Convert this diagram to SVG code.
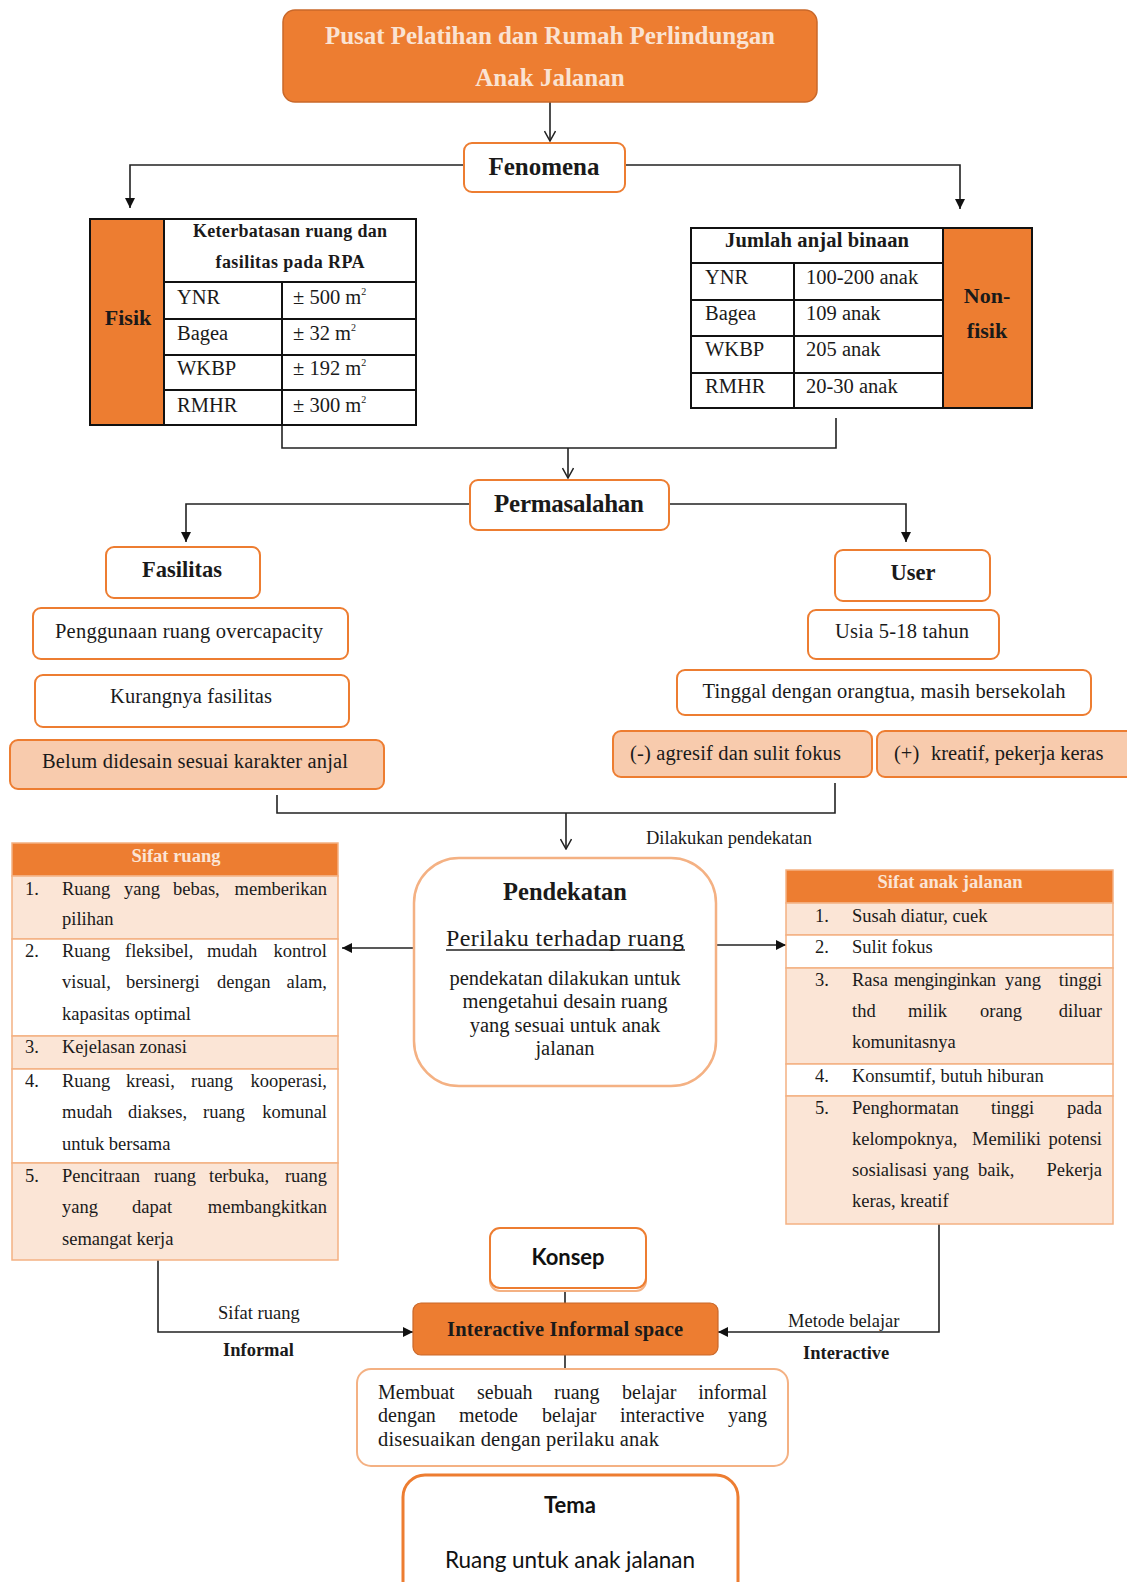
<svg xmlns="http://www.w3.org/2000/svg" width="1127" height="1582" viewBox="0 0 1127 1582">
<defs>
<style>
.s{font-family:"Liberation Serif","Times New Roman",serif;fill:#1a1a1a}
.sans{font-family:Lato,"Liberation Sans",sans-serif;fill:#111}
.b{font-weight:bold}
.c{text-anchor:middle}
.e{text-anchor:end}
.conn{fill:none;stroke:#222;stroke-width:1.6}
.box{fill:#fff;stroke:#ED7D31;stroke-width:2}
.pbox{fill:#F8CBAD;stroke:#ED7D31;stroke-width:2}
.tb{fill:none;stroke:#111;stroke-width:2}
.rp{fill:#FBE5D6;stroke:#F4B183;stroke-width:1.5}
.rw{fill:#fff;stroke:#F4B183;stroke-width:1.5}
.hd{fill:#ED7D31;stroke:#F4B183;stroke-width:1.5}
.t18{font-size:18.5px}
.t20{font-size:20.5px}
</style>
<marker id="fa" viewBox="0 0 10 10" refX="10" refY="5" markerWidth="10" markerHeight="10" markerUnits="userSpaceOnUse" orient="auto">
<path d="M0,0 L10,5 L0,10 z" fill="#111"/>
</marker>
<marker id="oa" viewBox="0 0 12 12" refX="11" refY="6" markerWidth="12" markerHeight="12" markerUnits="userSpaceOnUse" orient="auto">
<path d="M1,0.5 L11,6 L1,11.5" fill="none" stroke="#222" stroke-width="1.5"/>
</marker>
</defs>
<rect width="1127" height="1582" fill="#fff"/>

<g id="connectors">
<path class="conn" d="M550,102 V141" marker-end="url(#oa)"/>
<path class="conn" d="M464,165 H130 V208" marker-end="url(#fa)"/>
<path class="conn" d="M625,165 H960 V209" marker-end="url(#fa)"/>
<path class="conn" d="M282,425 V448 H836 V418"/>
<path class="conn" d="M568,448 V478" marker-end="url(#oa)"/>
<path class="conn" d="M470,504 H186 V542" marker-end="url(#fa)"/>
<path class="conn" d="M669,504 H906 V542" marker-end="url(#fa)"/>
<path class="conn" d="M277,795 V813 H835 V783"/>
<path class="conn" d="M566,813 V849" marker-end="url(#oa)"/>
<path class="conn" d="M414,948 H342" marker-end="url(#fa)"/>
<path class="conn" d="M716,945 H786" marker-end="url(#fa)"/>
<path class="conn" d="M158,1260 V1332 H413" marker-end="url(#fa)"/>
<path class="conn" d="M939,1224 V1332 H718" marker-end="url(#fa)"/>
<path class="conn" d="M565,1291 V1303"/>
<path class="conn" d="M565,1355 V1369"/>
<text class="s t18" x="646" y="844">Dilakukan pendekatan</text>
<text class="s t18" x="218" y="1319">Sifat ruang</text>
<text class="s b t18" x="223" y="1356">Informal</text>
<text class="s t18" x="788" y="1327">Metode belajar</text>
<text class="s b t18" x="803" y="1359">Interactive</text>
</g>

<g id="judul">
<rect x="283" y="10" width="534" height="92" rx="12" fill="#ED7D31" stroke="#C9682A" stroke-width="1.5"/>
<text class="s b c" x="550" y="44" font-size="25" style="fill:#FAE3D3" textLength="450">Pusat Pelatihan dan Rumah Perlindungan</text>
<text class="s b c" x="550" y="86" font-size="25" style="fill:#FAE3D3">Anak Jalanan</text>
</g>

<g id="fenomena">
<rect class="box" x="464" y="143" width="161" height="49" rx="8"/>
<text class="s b c" x="544" y="175" font-size="25" textLength="111">Fenomena</text>
</g>

<g id="fisik">
<rect x="90" y="219" width="74" height="206" fill="#ED7D31"/>
<rect class="tb" x="90" y="219" width="326" height="206"/>
<path d="M164,219 V425 M164,282 H416 M164,319 H416 M164,355 H416 M164,390 H416 M282,282 V425" stroke="#111" stroke-width="2" fill="none"/>
<text class="s b c" x="128" y="325" font-size="22">Fisik</text>
<text class="s b c" x="290" y="237" font-size="18" textLength="194">Keterbatasan ruang dan</text>
<text class="s b c" x="290" y="268" font-size="18" textLength="149">fasilitas pada RPA</text>
<g class="s" font-size="20.5">
<text x="177" y="304">YNR</text><text x="293" y="304">± 500 m<tspan font-size="10" dy="-9">2</tspan></text>
<text x="177" y="340">Bagea</text><text x="293" y="340">± 32 m<tspan font-size="10" dy="-9">2</tspan></text>
<text x="177" y="375">WKBP</text><text x="293" y="375">± 192 m<tspan font-size="10" dy="-9">2</tspan></text>
<text x="177" y="412">RMHR</text><text x="293" y="412">± 300 m<tspan font-size="10" dy="-9">2</tspan></text>
</g>
</g>

<g id="nonfisik">
<rect x="943" y="228" width="89" height="180" fill="#ED7D31"/>
<rect class="tb" x="691" y="228" width="341" height="180"/>
<path d="M943,228 V408 M691,263 H943 M691,300 H943 M691,336 H943 M691,373 H943 M794,263 V408" stroke="#111" stroke-width="2" fill="none"/>
<text class="s b c" x="817" y="247" font-size="20.5" textLength="184">Jumlah anjal binaan</text>
<text class="s b c" x="987" y="303" font-size="22">Non-</text>
<text class="s b c" x="987" y="338" font-size="22">fisik</text>
<g class="s" font-size="20.5">
<text x="705" y="284">YNR</text><text x="806" y="284">100-200 anak</text>
<text x="705" y="320">Bagea</text><text x="806" y="320">109 anak</text>
<text x="705" y="356">WKBP</text><text x="806" y="356">205 anak</text>
<text x="705" y="393">RMHR</text><text x="806" y="393">20-30 anak</text>
</g>
</g>

<g id="permasalahan">
<rect class="box" x="470" y="480" width="199" height="50" rx="8"/>
<text class="s b c" x="569" y="512" font-size="25" textLength="150">Permasalahan</text>
</g>

<g id="fasilitas">
<rect class="box" x="106" y="547" width="154" height="51" rx="8"/>
<text class="s b c" x="182" y="577" font-size="22.5">Fasilitas</text>
</g>
<g id="overcapacity">
<rect class="box" x="33" y="608" width="315" height="51" rx="8"/>
<text class="s c t20" x="189" y="638" textLength="268">Penggunaan ruang overcapacity</text>
</g>
<g id="kurang">
<rect class="box" x="35" y="675" width="314" height="52" rx="8"/>
<text class="s c t20" x="191" y="703" textLength="162">Kurangnya fasilitas</text>
</g>
<g id="belum">
<rect class="pbox" x="10" y="740" width="374" height="49" rx="8"/>
<text class="s c t20" x="195" y="768" textLength="306">Belum didesain sesuai karakter anjal</text>
</g>

<g id="user">
<rect class="box" x="835" y="550" width="155" height="51" rx="8"/>
<text class="s b c" x="913" y="580" font-size="22.5">User</text>
</g>
<g id="usia">
<rect class="box" x="808" y="610" width="191" height="49" rx="8"/>
<text class="s c t20" x="902" y="638" textLength="134">Usia 5-18 tahun</text>
</g>
<g id="tinggal">
<rect class="box" x="677" y="670" width="414" height="45" rx="8"/>
<text class="s c t20" x="884" y="698" textLength="363">Tinggal dengan orangtua, masih bersekolah</text>
</g>
<g id="negatif">
<rect class="pbox" x="613" y="731" width="259" height="46" rx="8"/>
<text class="s t20" x="630" y="760" textLength="211">(-) agresif dan sulit fokus</text>
</g>
<g id="positif">
<rect class="pbox" x="877" y="731" width="270" height="46" rx="8"/>
<text class="s t20" x="894" y="760">(+)<tspan x="931">kreatif, pekerja keras</tspan></text>
</g>

<g id="sifat-ruang">
<rect class="hd" x="12" y="843" width="326" height="33"/>
<rect class="rp" x="12" y="876" width="326" height="63"/>
<rect class="rw" x="12" y="939" width="326" height="97"/>
<rect class="rp" x="12" y="1036" width="326" height="33"/>
<rect class="rw" x="12" y="1069" width="326" height="94"/>
<rect class="rp" x="12" y="1163" width="326" height="97"/>
<text class="s b c t18" x="176" y="862" style="fill:#FBE5D6">Sifat ruang</text>
<g class="s t18">
<text x="25" y="895">1.</text>
<text y="895"><tspan x="62">Ruang</tspan><tspan x="124">yang</tspan><tspan x="173">bebas,</tspan></text><text class="e" x="327" y="895">memberikan</text>
<text x="62" y="925">pilihan</text>
<text x="25" y="957">2.</text>
<text y="957"><tspan x="62">Ruang</tspan><tspan x="125">fleksibel,</tspan><tspan x="207">mudah</tspan></text><text class="e" x="327" y="957">kontrol</text>
<text y="988"><tspan x="62">visual,</tspan><tspan x="126">bersinergi</tspan><tspan x="217">dengan</tspan></text><text class="e" x="327" y="988">alam,</text>
<text x="62" y="1020">kapasitas optimal</text>
<text x="25" y="1053">3.</text>
<text x="62" y="1053">Kejelasan zonasi</text>
<text x="25" y="1087">4.</text>
<text y="1087"><tspan x="62">Ruang</tspan><tspan x="126">kreasi,</tspan><tspan x="191">ruang</tspan></text><text class="e" x="327" y="1087">kooperasi,</text>
<text y="1118"><tspan x="62">mudah</tspan><tspan x="128">diakses,</tspan><tspan x="203">ruang</tspan></text><text class="e" x="327" y="1118">komunal</text>
<text x="62" y="1150">untuk bersama</text>
<text x="25" y="1182">5.</text>
<text y="1182"><tspan x="62">Pencitraan</tspan><tspan x="154">ruang</tspan><tspan x="209">terbuka,</tspan></text><text class="e" x="327" y="1182">ruang</text>
<text y="1213"><tspan x="62">yang</tspan><tspan x="132">dapat</tspan></text><text class="e" x="327" y="1213">membangkitkan</text>
<text x="62" y="1245">semangat kerja</text>
</g>
</g>

<g id="pendekatan">
<rect x="414" y="858" width="302" height="228" rx="45" fill="#fff" stroke="#F4B183" stroke-width="2.5"/>
<text class="s b c" x="565" y="900" font-size="24.5">Pendekatan</text>
<text class="s c" x="565" y="946" font-size="24" textLength="238">Perilaku terhadap ruang</text>
<line x1="446" y1="950" x2="685" y2="950" stroke="#222" stroke-width="1.3"/>
<g class="s c" font-size="20.5">
<text x="565" y="985">pendekatan dilakukan untuk</text>
<text x="565" y="1008">mengetahui desain ruang</text>
<text x="565" y="1032">yang sesuai untuk anak</text>
<text x="565" y="1055">jalanan</text>
</g>
</g>

<g id="sifat-anak">
<rect class="hd" x="786" y="870" width="327" height="33"/>
<rect class="rp" x="786" y="903" width="327" height="32"/>
<rect class="rw" x="786" y="935" width="327" height="33"/>
<rect class="rp" x="786" y="968" width="327" height="96"/>
<rect class="rw" x="786" y="1064" width="327" height="32"/>
<rect class="rp" x="786" y="1096" width="327" height="128"/>
<text class="s b c t18" x="950" y="888" style="fill:#FBE5D6">Sifat anak jalanan</text>
<g class="s t18">
<text x="815" y="922">1.</text><text x="852" y="922">Susah diatur, cuek</text>
<text x="815" y="953">2.</text><text x="852" y="953">Sulit fokus</text>
<text x="815" y="986">3.</text>
<text y="986"><tspan x="852">Rasa</tspan><tspan x="894" textLength="102">menginginkan</tspan><tspan x="1005">yang</tspan></text><text class="e" x="1102" y="986">tinggi</text>
<text y="1017"><tspan x="852">thd</tspan><tspan x="908">milik</tspan><tspan x="980">orang</tspan></text><text class="e" x="1102" y="1017">diluar</text>
<text x="852" y="1048">komunitasnya</text>
<text x="815" y="1082">4.</text><text x="852" y="1082">Konsumtif, butuh hiburan</text>
<text x="815" y="1114">5.</text>
<text y="1114"><tspan x="852">Penghormatan</tspan><tspan x="991">tinggi</tspan></text><text class="e" x="1102" y="1114">pada</text>
<text y="1145"><tspan x="852">kelompoknya,</tspan><tspan x="972">Memiliki</tspan></text><text class="e" x="1102" y="1145">potensi</text>
<text y="1176"><tspan x="852">sosialisasi</tspan><tspan x="933">yang</tspan><tspan x="978">baik,</tspan></text><text class="e" x="1102" y="1176">Pekerja</text>
<text x="852" y="1207">keras, kreatif</text>
</g>
</g>

<g id="konsep">
<rect x="490" y="1231" width="156" height="60" rx="10" fill="#fff" stroke="#F4B183" stroke-width="2"/>
<rect x="490" y="1228" width="156" height="60" rx="10" fill="#fff" stroke="#ED7D31" stroke-width="2"/>
<text class="sans b c" x="568" y="1265" font-size="22">Konsep</text>
</g>

<g id="interactive-informal">
<rect x="413" y="1303" width="305" height="52" rx="8" fill="#ED7D31" stroke="#C9682A" stroke-width="1.2"/>
<text class="s b c" x="565" y="1336" font-size="20.5" textLength="236">Interactive Informal space</text>
</g>

<g id="membuat">
<rect x="357" y="1369" width="431" height="97" rx="14" fill="#fff" stroke="#F4B183" stroke-width="2"/>
<g class="s" font-size="20">
<text y="1399"><tspan x="378">Membuat</tspan><tspan x="477">sebuah</tspan><tspan x="554">ruang</tspan><tspan x="622">belajar</tspan></text><text class="e" x="767" y="1399">informal</text>
<text y="1422"><tspan x="378">dengan</tspan><tspan x="459">metode</tspan><tspan x="542">belajar</tspan><tspan x="620">interactive</tspan></text><text class="e" x="767" y="1422">yang</text>
<text x="378" y="1446" font-size="20.5" textLength="281">disesuaikan dengan perilaku anak</text>
</g>
</g>

<g id="tema">
<rect x="403" y="1475" width="335" height="140" rx="22" fill="#fff" stroke="#ED7D31" stroke-width="3"/>
<text class="sans b c" x="570" y="1513" font-size="22">Tema</text>
<text class="sans c" x="570" y="1568" font-size="22.5" textLength="250">Ruang untuk anak jalanan</text>
</g>
</svg>
